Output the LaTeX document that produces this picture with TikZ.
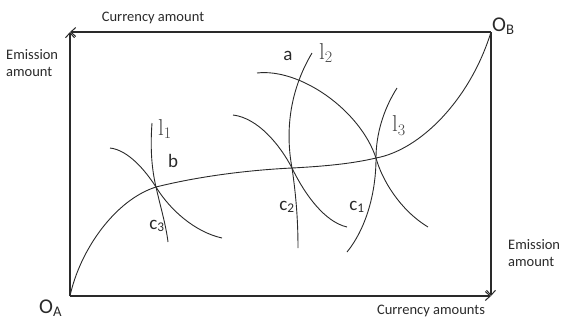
\documentclass[tikz,border=0pt]{standalone}
\usepackage{fontspec}
\newfontfamily\calibri{Carlito}
\usetikzlibrary{arrows.meta}
\definecolor{ink}{HTML}{2A2A2A}
\definecolor{lgray}{HTML}{444444}
\begin{document}
\begin{tikzpicture}[x=1pt,y=-1pt,
  frame/.style={draw=ink,line width=1.1pt,-{Straight Barb[length=5pt,width=9pt,line width=1pt]}},
  curve/.style={draw=ink,line width=0.9pt},
  axislabel/.style={text=ink,font=\calibri\fontsize{14.5}{17.5}\selectfont,inner sep=0pt},
  letter/.style={text=ink,font=\calibri\fontsize{19}{20}\selectfont,inner sep=0pt},
  lname/.style={text=lgray,font=\rmfamily\fontsize{23}{23}\selectfont,inner sep=0pt},
  origin/.style={text=ink,font=\calibri\fontsize{21}{22}\selectfont,inner sep=0pt}]
\useasboundingbox (0,0) rectangle (565,325);
% corners
\coordinate (OA) at (70,296);
\coordinate (OB) at (491,32);
\coordinate (TL) at (70,32);
\coordinate (BR) at (491,296);
% frame
\draw[frame] (OA) -- (TL);
\draw[frame] (OB) -- (TL);
\draw[frame] (OB) -- (BR);
\draw[frame] (OA) -- (BR);
% tangency points
\coordinate (P3) at (156,187);
\coordinate (P2) at (292,168);
\coordinate (P1) at (376,158);
% contract curve
\draw[curve] (OA) .. controls (80,250) and (115,200) .. (P3)
  .. controls (200,176) and (250,170) .. (P2)
  .. controls (330,166) and (355,163) .. (P1)
  .. controls (420,150) and (470,100) .. (OB);
% l1 and c3
\coordinate (l1top) at (152,123);
\coordinate (l1bot) at (168,242);
\draw[curve] (l1top) .. controls (150,150) and (152,170) .. (P3)
  .. controls (160,205) and (166,225) .. (l1bot);
\coordinate (c3top) at (110,148);
\coordinate (c3bot) at (222,238);
\draw[curve] (c3top) .. controls (128,150) and (145,170) .. (P3)
  .. controls (170,210) and (195,232) .. (c3bot);
% l2 and c2
\coordinate (l2top) at (312,53);
\coordinate (l2bot) at (298,248);
\draw[curve] (l2top) .. controls (290,90) and (285,130) .. (P2)
  .. controls (296,195) and (298,220) .. (l2bot);
\coordinate (c2top) at (233,115);
\coordinate (c2bot) at (347,227);
\draw[curve] (c2top) .. controls (258,118) and (280,145) .. (P2)
  .. controls (305,195) and (325,222) .. (c2bot);
% big arc and l3
\coordinate (atop) at (257,73);
\coordinate (abot) at (428,227);
\draw[curve] (atop) .. controls (300,68) and (360,110) .. (P1)
  .. controls (382,180) and (400,210) .. (abot);
\coordinate (l3top) at (397,88);
\coordinate (l3bot) at (347,252);
\draw[curve] (l3top) .. controls (383,110) and (376,135) .. (P1)
  .. controls (376,195) and (365,230) .. (l3bot);
% axis labels
\node[axislabel] (cur1) at (153,18) {Currency amount};
\node[axislabel,align=left,anchor=west] (em1) at (6,63) {Emission\\amount};
\node[axislabel,align=left,anchor=west] (em2) at (508,253) {Emission\\amount};
\node[axislabel] (cur2) at (431,311) {Currency amounts};
% origins
\node[origin,anchor=west] (oB) at (492,26) {O\textsubscript{B}};
\node[origin,anchor=west] (oA) at (39,308) {O\textsubscript{A}};
% letters
\node[letter] (la) at (288,56) {a};
\node[letter] (lb) at (173,161) {b};
\node[letter] (lc3) at (157,226) {c\textsubscript{3}};
\node[letter] (lc2) at (287,207) {c\textsubscript{2}};
\node[letter] (lc1) at (357,207) {c\textsubscript{1}};
\node[lname] (n1) at (165,129) {l\textsubscript{1}};
\node[lname] (n2) at (326,53) {l\textsubscript{2}};
\node[lname] (n3) at (399,126) {l\textsubscript{3}};
\end{tikzpicture}
\end{document}
